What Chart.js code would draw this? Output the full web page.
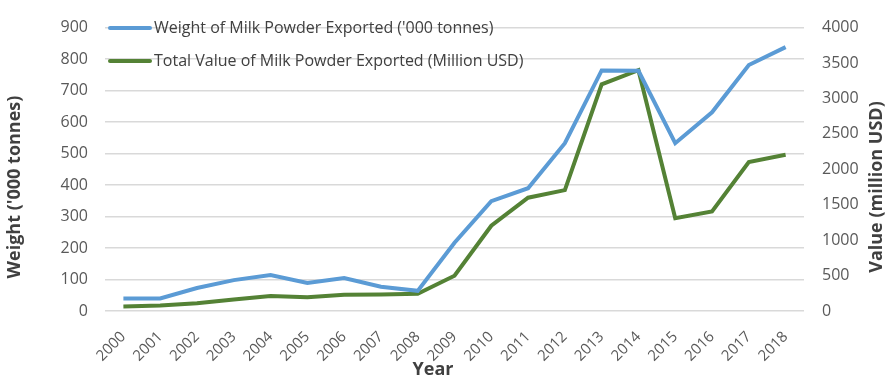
<!DOCTYPE html>
<html>
<head>
<meta charset="utf-8">
<script src="https://cdn.jsdelivr.net/npm/chart.js@4/dist/chart.umd.min.js"></script>
<style>
html,body{margin:0;padding:0;background:#fff;}
#wrap{width:896px;height:383px;position:relative;}
</style>
</head>
<body>
<div id="wrap"><canvas id="c" width="896" height="383"></canvas></div>
<script>
const years = ['2000','2001','2002','2003','2004','2005','2006','2007','2008','2009','2010','2011','2012','2013','2014','2015','2016','2017','2018'];
const weightKt = [40,40,73,98,114,89,105,77,64,217,349,390,533,764,763,533,631,781,838];
const valueMUSD = [65,77,108,162,211,193,229,233,242,498,1203,1599,1706,3200,3398,1310,1405,2101,2205];
const weightTicks = [0,100,200,300,400,500,600,700,800,900];
const valueTicks = [0,500,1000,1500,2000,2500,3000,3500,4000];
const titles = {x: 'Year', left: "Weight ('000 tonnes)", right: 'Value (million USD)'};

const FONT = "'Open Sans', 'DejaVu Sans', sans-serif";
const TXT = '#595959';
const TITLE = '#404040';

const overlayPlugin = {
  id: 'overlay',
  afterDraw(chart) {
    const ctx = chart.ctx;
    const rows = [28, 61];
    ctx.save();
    chart.data.datasets.forEach((ds, i) => {
      const y = rows[i];
      ctx.strokeStyle = ds.borderColor;
      ctx.lineWidth = 4;
      ctx.lineCap = 'round';
      ctx.beginPath();
      ctx.moveTo(110, y);
      ctx.lineTo(150, y);
      ctx.stroke();
      ctx.fillStyle = TITLE;
      ctx.font = "16px " + FONT;
      ctx.textBaseline = 'middle';
      ctx.textAlign = 'left';
      ctx.fillText(ds.label, 154, y);
    });
    ctx.font = "bold 18px " + FONT;
    ctx.fillStyle = TITLE;
    ctx.textAlign = 'center';
    ctx.textBaseline = 'alphabetic';
    ctx.fillText(titles.x, 433, 375);
    ctx.textBaseline = 'middle';
    ctx.save();
    ctx.translate(15, 187);
    ctx.rotate(-Math.PI / 2);
    ctx.fillText(titles.left, 0, 0);
    ctx.restore();
    ctx.save();
    ctx.translate(877, 187);
    ctx.rotate(-Math.PI / 2);
    ctx.fillText(titles.right, 0, 0);
    ctx.restore();
    ctx.restore();
  }
};

new Chart(document.getElementById('c'), {
  type: 'line',
  data: {
    labels: years,
    datasets: [
      {label: "Weight of Milk Powder Exported ('000 tonnes)", data: weightKt, yAxisID: 'yW',
       borderColor: '#5B9BD5', borderWidth: 4, pointRadius: 0, tension: 0, fill: false},
      {label: "Total Value of Milk Powder Exported (Million USD)", data: valueMUSD, yAxisID: 'yV',
       borderColor: '#548235', borderWidth: 4, pointRadius: 0, tension: 0, fill: false}
    ]
  },
  options: {
    responsive: false,
    animation: false,
    layout: {padding: {top: 14, left: 0, right: 0, bottom: 0}},
    plugins: {legend: {display: false}, tooltip: {enabled: false}},
    scales: {
      x: {
        offset: true,
        grid: {display: false},
        border: {display: false},
        ticks: {color: TXT, font: {family: FONT, size: 15}, maxRotation: 45, minRotation: 45, padding: 9, autoSkip: false},
        afterFit(s) { s.height = 72; }
      },
      yW: {
        position: 'left', min: 0, max: 900,
        afterBuildTicks(s) { s.ticks = weightTicks.map(v => ({value: v})); },
        grid: {color: '#d9d9d9', lineWidth: 1.5, drawTicks: false},
        border: {display: false},
        ticks: {color: TXT, font: {family: FONT, size: 16}, padding: 17, callback: v => String(v)},
        afterFit(s) { s.width = 105; }
      },
      yV: {
        position: 'right', min: 0, max: 4000,
        afterBuildTicks(s) { s.ticks = valueTicks.map(v => ({value: v})); },
        grid: {display: false, drawTicks: false},
        border: {display: false},
        ticks: {color: TXT, font: {family: FONT, size: 16}, padding: 18, callback: v => String(v)},
        afterFit(s) { s.width = 92; }
      }
    }
  },
  plugins: [overlayPlugin]
});
</script>
</body>
</html>
